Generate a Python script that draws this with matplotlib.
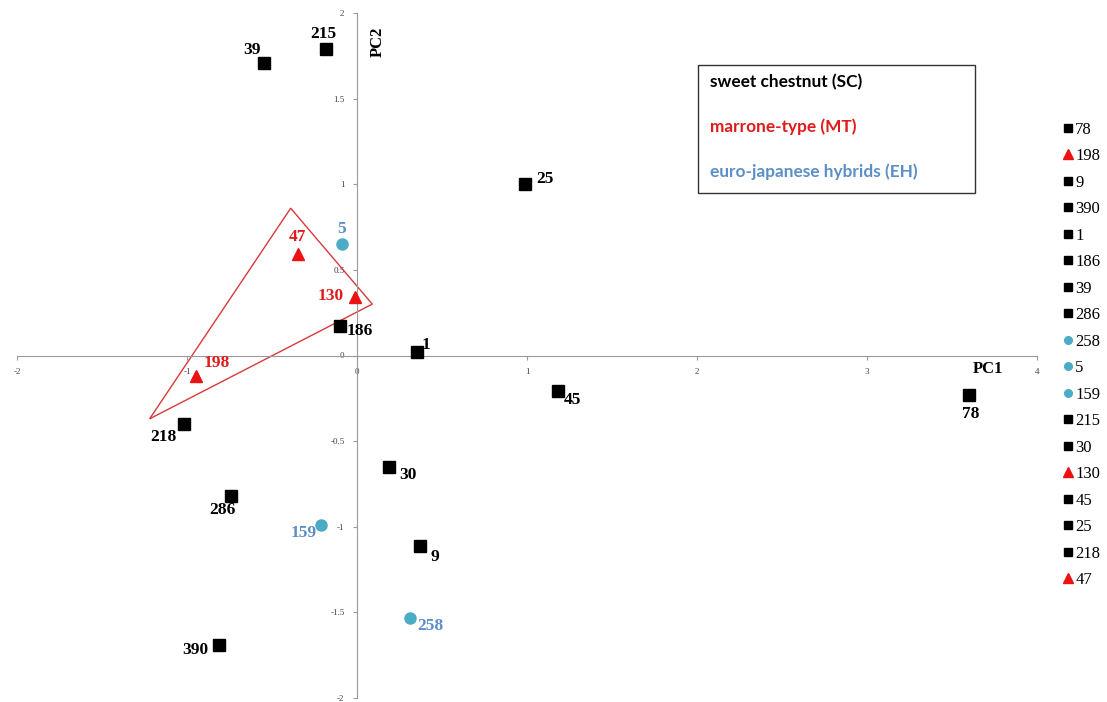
import matplotlib.pyplot as plt
from matplotlib.lines import Line2D
from matplotlib.patches import Polygon

# accessions, in the order they appear in the side legend
ids = ['78', '198', '9', '390', '1', '186', '39', '286', '258', '5',
       '159', '215', '30', '130', '45', '25', '218', '47']
groups = ['SC', 'MT', 'SC', 'SC', 'SC', 'SC', 'SC', 'SC', 'EH', 'EH',
          'EH', 'SC', 'SC', 'MT', 'SC', 'SC', 'SC', 'MT']
pc1 = [3.60, -0.95, 0.37, -0.81, 0.35, -0.10, -0.55, -0.74, 0.31, -0.09,
       -0.21, -0.18, 0.19, -0.01, 1.18, 0.99, -1.02, -0.35]
pc2 = [-0.23, -0.12, -1.11, -1.69, 0.02, 0.17, 1.71, -0.82, -1.53, 0.65,
       -0.99, 1.79, -0.65, 0.34, -0.21, 1.00, -0.40, 0.59]

# hull around the marrone-type group
hull_x = [-0.39, 0.09, -1.22]
hull_y = [0.86, 0.30, -0.37]

group_names = ['sweet chestnut (SC)', 'marrone-type (MT)', 'euro-japanese hybrids (EH)']

marker = {'SC': 's', 'MT': '^', 'EH': 'o'}
mcolor = {'SC': 'black', 'MT': '#ee1111', 'EH': '#4bacc6'}
tcolor = {'SC': 'black', 'MT': '#e01b1b', 'EH': '#5b8fc7'}
msize = {'SC': 8.5, 'MT': 9, 'EH': 8}

# label offsets in pixels (dx right, dy up)
offs = {'78': (2, -19), '198': (21, 13), '9': (15, -11), '390': (-24, -5),
        '1': (9, 7), '186': (20, -5), '39': (-12, 13), '286': (-9, -14),
        '258': (21, -8), '5': (0, 15), '159': (-18, -8), '215': (-3, 15),
        '30': (19, -8), '130': (-25, 1), '45': (15, -9), '25': (20, 5),
        '218': (-20, -13), '47': (0, 17)}

fig = plt.figure(figsize=(11.07, 7.02), dpi=100)
ax = fig.add_axes([17 / 1107, 4 / 702, 1020 / 1107, 685 / 702])

ax.add_patch(Polygon(list(zip(hull_x, hull_y)), closed=True, fill=False,
                     edgecolor='#d9393b', lw=1.0, zorder=2))

handles = []
for name, g, x, y in zip(ids, groups, pc1, pc2):
    ax.plot(x, y, marker=marker[g], color=mcolor[g], ms=msize[g], ls='none', zorder=3)
    dx, dy = offs[name]
    ax.annotate(name, (x, y), xytext=(dx, dy), textcoords='offset pixels',
                ha='center', va='center', color=tcolor[g], fontsize=12.5,
                fontweight='bold', family='Liberation Serif')
    handles.append(Line2D([], [], marker=marker[g], color=mcolor[g], ls='none',
                          ms=5.5 if g != 'MT' else 6.5, label=name))

ax.set_xlim(-2, 4)
ax.set_ylim(-2, 2)
ax.set_xticks([-2, -1, 0, 1, 2, 3, 4])
ax.set_yticks([-2, -1.5, -1, -0.5, 0, 0.5, 1, 1.5, 2])
ax.set_xticklabels(['-2', '-1', '0', '1', '2', '3', '4'])
ax.set_yticklabels(['-2', '-1.5', '-1', '-0.5', '0', '0.5', '1', '1.5', '2'])
for s in ['top', 'right']:
    ax.spines[s].set_visible(False)
ax.spines['left'].set_position(('data', 0))
ax.spines['bottom'].set_position(('data', 0))
for s in ['left', 'bottom']:
    ax.spines[s].set_color('#9a9a9a')
ax.tick_params(length=3, color='#9a9a9a', labelsize=6.5, labelcolor='#444444', pad=6)
for t in ax.get_xticklabels() + ax.get_yticklabels():
    t.set_family('Liberation Serif')

ax.text(3.62, -0.08, 'PC1', fontsize=12, fontweight='bold', family='Liberation Serif',
        ha='left', va='center')
ax.text(0.12, 1.83, 'PC2', fontsize=12, fontweight='bold', family='Liberation Serif',
        rotation=90, ha='center', va='center')

# group key box
fig.patches.append(plt.Rectangle((698 / 1107, 1 - 193 / 702), 277 / 1107, 128 / 702,
                                 transform=fig.transFigure, fill=False,
                                 edgecolor='#333333', lw=1.0))
for i, (txt, g) in enumerate(zip(group_names, ['SC', 'MT', 'EH'])):
    fig.text(710 / 1107, 1 - (82 + i * 45) / 702, txt, color=tcolor[g], fontsize=12.4,
             fontweight='bold', family='Lato', va='center')

fig.legend(handles=handles, loc='upper left', bbox_to_anchor=(1056 / 1107, 1 - 115 / 702),
           frameon=False, prop={'family': 'Liberation Serif', 'size': 12},
           handlelength=0.6, handletextpad=0.15, labelspacing=0.63, borderaxespad=0)

fig.savefig('out.png', dpi=100)
